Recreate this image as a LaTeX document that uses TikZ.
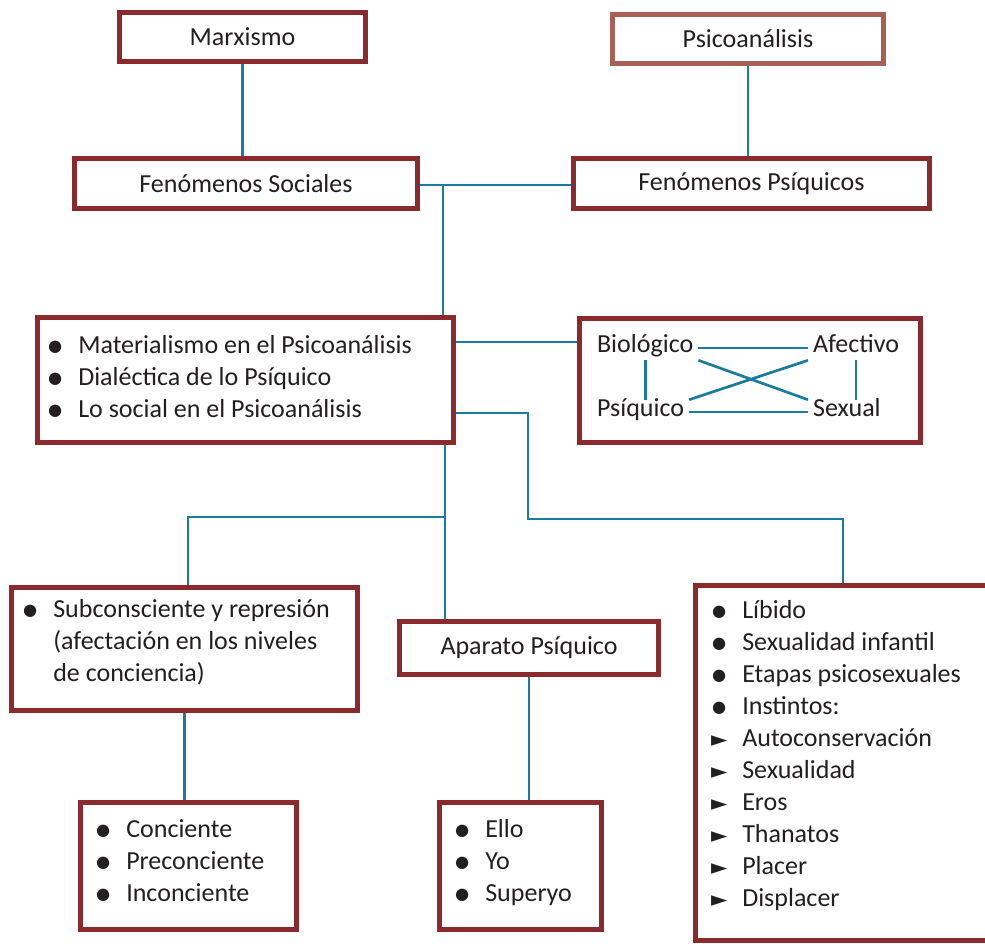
\documentclass[tikz,border=0pt]{standalone}
\usepackage{fontspec}
\setmainfont{Carlito}
\newfontfamily\symfont{DejaVu Sans}

\definecolor{boxred}{HTML}{8B2A2D}
\definecolor{boxrose}{HTML}{A95F53}
\definecolor{linkblue}{HTML}{1B7B9C}
\definecolor{ink}{HTML}{231F20}

\newcommand{\bul}{\llap{\makebox[1.15cm]{\raisebox{1.2pt}{\symfont\fontsize{11.5}{11.5}\selectfont ●}}}}
\newcommand{\tri}{\llap{\makebox[1.15cm]{\symfont\fontsize{15}{15}\selectfont ►}}}

\tikzset{
	every node/.style={font=\fontsize{18.5}{22.76}\selectfont, text=ink},
	box/.style={draw=boxred, line width=3.6pt, fill=white, inner sep=0pt},
	link/.style={draw=linkblue, line width=1.9pt},
	word/.style={anchor=base west, inner xsep=0.12cm, inner ysep=0.05cm, text height=0.35cm, text depth=0.15cm},
	listtxt/.style={anchor=base west, inner sep=0pt},
}

\begin{document}
\begin{tikzpicture}[x=0.025cm, y=-0.025cm]

\useasboundingbox (0,0) rectangle (985,943);

% top row
\node[box, minimum width=6.15cm, minimum height=1.225cm] (marx) at (242.5,37) {Marxismo};
\node[box, draw=boxrose, minimum width=6.775cm, minimum height=1.225cm] (psico) at (748,39) {Psicoanálisis};
\node[box, minimum width=8.575cm, minimum height=1.25cm] (fsoc) at (246,183.5) {Fenómenos Sociales};
\node[box, minimum width=8.9cm, minimum height=1.25cm] (fpsi) at (751.5,183.5) {Fenómenos Psíquicos};

% middle row
\node[box, minimum width=10.4cm, minimum height=3.125cm] (main) at (245.5,380) {};
\node[listtxt] (mainTxt) at (78,353) {\begin{tabular}[t]{@{}l@{}}
	\bul Materialismo en el Psicoanálisis\\
	\bul Dialéctica de lo Psíquico\\
	\bul Lo social en el Psicoanálisis
\end{tabular}};

\node[box, minimum width=8.525cm, minimum height=3.1cm] (bio) at (750,380.5) {};
\node[word] (bioB) at (592,352) {Biológico};
\node[word] (bioA) at (808,352) {Afectivo};
\node[word] (bioP) at (592,416) {Psíquico};
\node[word] (bioS) at (808,416) {Sexual};

% lower rows
\node[box, minimum width=8.65cm, minimum height=3.075cm] (subc) at (184.5,649) {};
\node[listtxt] (subcTxt) at (53,617) {\begin{tabular}[t]{@{}l@{}}
	\bul Subconsciente y represión\\
	(afectación en los niveles\\
	de conciencia)
\end{tabular}};

\node[box, minimum width=6.475cm, minimum height=1.325cm] (apar) at (529,648) {Aparato Psíquico};

\node[box, minimum width=7.8625cm, minimum height=8.875cm] (rlist) at (852.75,763) {};
\node[listtxt] (rlistTxt) at (742,618) {\begin{tabular}[t]{@{}l@{}}
	\bul Líbido\\
	\bul Sexualidad infantil\\
	\bul Etapas psicosexuales\\
	\bul Instintos:\\
	\tri Autoconservación\\
	\tri Sexualidad\\
	\tri Eros\\
	\tri Thanatos\\
	\tri Placer\\
	\tri Displacer
\end{tabular}};

\node[box, minimum width=5.4cm, minimum height=3.175cm] (conc) at (188.5,866) {};
\node[listtxt] (concTxt) at (126,837) {\begin{tabular}[t]{@{}l@{}}
	\bul Conciente\\
	\bul Preconciente\\
	\bul Inconciente
\end{tabular}};

\node[box, minimum width=4.05cm, minimum height=3.175cm] (ello) at (520.5,866) {};
\node[listtxt] (elloTxt) at (485,837) {\begin{tabular}[t]{@{}l@{}}
	\bul Ello\\
	\bul Yo\\
	\bul Superyo
\end{tabular}};

% junctions
\coordinate (jtop) at (443,185);
\coordinate (jbio) at (455,342);
\coordinate (kneeA) at (528,413);
\coordinate (kneeB) at (843,519);
\coordinate (jmid) at (445,517);
\coordinate (jleft) at (188,517);

% connectors
\draw[link] (marx.south) -- (marx.south |- fsoc.north);
\draw[link] (psico.south) -- (psico.south |- fpsi.north);
\draw[link] (fsoc.east |- jtop) -- (fpsi.west |- jtop);
\draw[link] (jtop) -- (jtop |- main.north);
\draw[link] (main.east |- jbio) -- (bio.west |- jbio);
\draw[link] (main.east |- kneeA) -- (kneeA) -- (kneeA |- kneeB) -- (kneeB) -- (kneeB |- rlist.north);
\draw[link] (jmid |- main.south) -- (jmid |- apar.north);
\draw[link] (jmid) -- (jleft) -- (jleft |- subc.north);
\draw[link] (subc.south) -- (subc.south |- conc.north);
\draw[link] (apar.south) -- (apar.south |- ello.north);

% inside the square of drives
\draw[link] (bioB) -- (bioA);
\draw[link] (bioP) -- (bioS);
\draw[link] (bioB.south) -- (bioB.south |- bioP.north);
\draw[link] (bioA.south) -- (bioA.south |- bioS.north);
\draw[link] (bioB.south east) -- (bioS.north west);
\draw[link] (bioP.north east) -- (bioA.south west);

\end{tikzpicture}
\end{document}
